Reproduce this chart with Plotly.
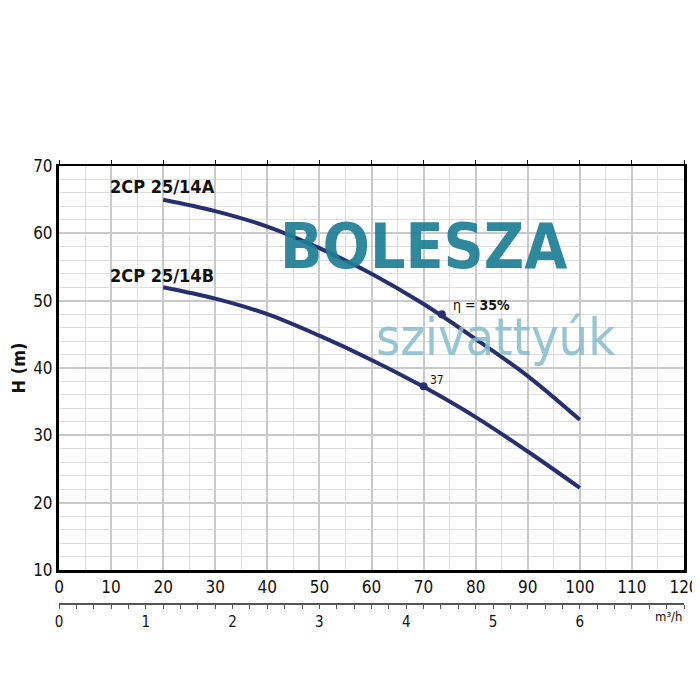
import plotly.graph_objects as go

# Flow (l/min) and head (m)
flow = [20, 30, 40, 50, 60, 70, 80, 90, 100]
head_a = [65.0, 63.3, 61.0, 57.8, 54.0, 49.5, 44.3, 38.8, 32.3]
head_b = [52.0, 50.3, 48.0, 44.8, 41.2, 37.2, 32.7, 27.6, 22.2]
series_names = ["2CP 25/14A", "2CP 25/14B"]

eff_points_q = [73.5, 70.0]
eff_points_h = [48.0, 37.3]

x_ticks = list(range(0, 121, 10))
y_ticks = list(range(10, 71, 10))
m3h_ticks = [0, 1, 2, 3, 4, 5, 6]

NAVY = "#26306f"
FONT = "DejaVu Sans Condensed"

fig = go.Figure()
for h, name in zip([head_a, head_b], series_names):
    fig.add_trace(go.Scatter(x=flow, y=h, mode="lines", line=dict(color=NAVY, width=4, shape="spline"),
                             name=name, showlegend=False, hoverinfo="skip"))
fig.add_trace(go.Scatter(x=eff_points_q, y=eff_points_h, mode="markers",
                         marker=dict(color=NAVY, size=8), showlegend=False, hoverinfo="skip"))
# invisible traces to activate extra axes
fig.add_trace(go.Scatter(x=[0], y=[10], xaxis="x2", mode="markers", marker=dict(opacity=0), showlegend=False, hoverinfo="skip"))
fig.add_trace(go.Scatter(x=[0], y=[10], xaxis="x3", mode="markers", marker=dict(opacity=0), showlegend=False, hoverinfo="skip"))

fig.update_layout(
    width=692, height=692,
    margin=dict(l=51, r=16, t=158, b=80, autoexpand=False),
    plot_bgcolor="white", paper_bgcolor="white",
    font=dict(family=FONT, color="#111", size=16),
    xaxis=dict(range=[0, 120], tickvals=x_ticks, showline=True, linecolor="black", linewidth=3,
               showgrid=True, gridcolor="#c9c9c9", gridwidth=2, ticks="", zeroline=False,
               minor=dict(dtick=5, showgrid=True, gridcolor="#dedede", gridwidth=1),
               tickfont=dict(size=17, family=FONT), anchor="y", automargin=False),
    xaxis2=dict(range=[0, 7.2], overlaying="x", anchor="free", position=0.035, side="bottom",
                tickvals=m3h_ticks, showline=True, linecolor="#555", linewidth=1.5, ticks="outside",
                ticklen=4, tickcolor="#555", showgrid=False, zeroline=False, automargin=False,
                minor=dict(dtick=0.2, ticks="outside", ticklen=4, tickcolor="#555", showgrid=False),
                tickfont=dict(size=15, family=FONT)),
    xaxis3=dict(range=[0, 120], overlaying="x", anchor="y", side="top", tickvals=x_ticks,
                showticklabels=False, showline=True, linecolor="black", linewidth=2, automargin=False,
                ticks="outside", ticklen=4, tickcolor="black", showgrid=False, zeroline=False),
    yaxis=dict(range=[10, 70], tickvals=y_ticks, domain=[0.1101, 1], showline=True, mirror=True,
               linecolor="black", linewidth=3, showgrid=True, gridcolor="#c9c9c9", gridwidth=2,
               ticks="", zeroline=False, automargin=False,
               minor=dict(dtick=2, showgrid=True, gridcolor="#dedede", gridwidth=1),
               tickfont=dict(size=17, family=FONT),
               title=dict(text="<b>H (m)</b>", font=dict(size=18, family=FONT), standoff=10)),
)

annotations = [
    dict(x=19.8, y=67.0, text="<b>" + series_names[0] + "</b>", font=dict(size=18)),
    dict(x=19.8, y=53.8, text="<b>" + series_names[1] + "</b>", font=dict(size=18)),
    dict(x=75.3, y=49.4, text="η = <b>35%</b>", font=dict(size=14), xanchor="left"),
    dict(x=70.9, y=38.2, text="37", font=dict(size=12), xanchor="left"),
    dict(x=69.9, y=58.1, text="<b>BOLESZA</b>", font=dict(size=62, color="#1f7e95", family=FONT),
         opacity=0.92),
    dict(x=83.9, y=44.6, text="szivattyúk", font=dict(size=52, color="#86bccb", family=FONT),
         opacity=0.85),
]
for a in annotations:
    a.setdefault("xref", "x")
    a.setdefault("yref", "y")
    a["showarrow"] = False
fig.update_layout(annotations=annotations + [
    dict(x=1.0, y=0.035, xref="paper", yref="paper", text="m³/h", showarrow=False,
         xanchor="right", yanchor="top", yshift=-3, font=dict(size=13))
])

fig.write_html("out.html")
